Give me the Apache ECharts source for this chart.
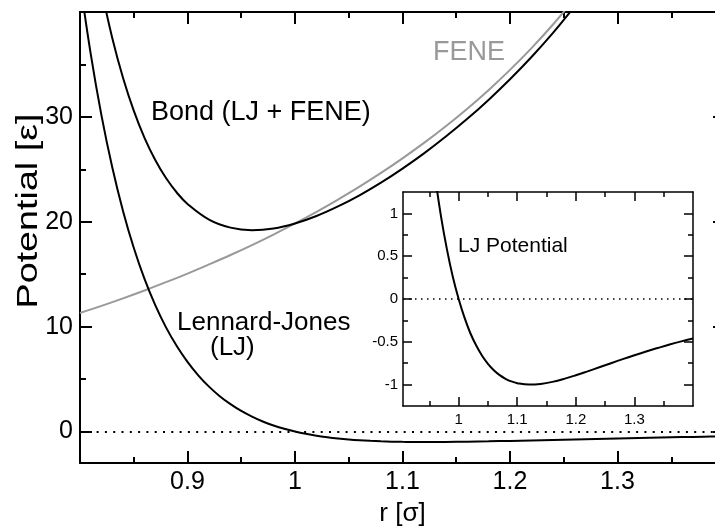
<!DOCTYPE html>
<html>
<head>
<meta charset="utf-8">
<script src="https://cdn.jsdelivr.net/npm/echarts@6/dist/echarts.min.js"></script>
<style>
  html, body { margin: 0; padding: 0; background: #fff; }
  #chart { width: 715px; height: 529px; }
</style>
</head>
<body>
<div id="chart"></div>
<script>
// Lennard-Jones potential (r in sigma, U in epsilon)
const rLJ = [0.80, 0.81, 0.82, 0.83, 0.84, 0.85, 0.86, 0.87, 0.88, 0.89,
  0.90, 0.91, 0.92, 0.93, 0.94, 0.95, 0.96, 0.97, 0.98, 0.99,
  1.00, 1.01, 1.02, 1.03, 1.04, 1.05, 1.06, 1.07, 1.08, 1.09,
  1.10, 1.12, 1.14, 1.16, 1.18, 1.20, 1.22, 1.24, 1.26, 1.28,
  1.30, 1.32, 1.34, 1.36, 1.38, 1.40];
const ljValues = [42.95, 35.98, 30.12, 25.19, 21.03, 17.52, 14.55, 12.05, 9.93, 8.15,
  6.64, 5.36, 4.28, 3.37, 2.61, 1.96, 1.42, 0.96, 0.58, 0.26,
  0, -0.218, -0.40, -0.544, -0.663, -0.758, -0.832, -0.889, -0.932, -0.963,
  -0.983, -1.000, -0.992, -0.968, -0.933, -0.891, -0.845, -0.798, -0.750, -0.703,
  -0.657, -0.613, -0.572, -0.532, -0.495, -0.461];

// FENE spring (grey curve)
const rFene = [0.80, 0.82, 0.84, 0.86, 0.88, 0.90, 0.92, 0.94, 0.96, 0.98,
  1.00, 1.02, 1.04, 1.06, 1.08, 1.10, 1.12, 1.14, 1.16, 1.18,
  1.20, 1.22, 1.24, 1.26];
const feneValues = [11.30, 11.98, 12.70, 13.45, 14.24, 15.06, 15.93, 16.83, 17.78, 18.78,
  19.84, 20.95, 22.12, 23.35, 24.66, 26.05, 27.52, 29.09, 30.76, 32.55,
  34.48, 36.56, 38.81, 41.27];

// bond = LJ + FENE
const rBond = [0.82, 0.83, 0.84, 0.85, 0.86, 0.87, 0.88, 0.89, 0.90, 0.92,
  0.94, 0.96, 0.98, 1.00, 1.02, 1.04, 1.06, 1.08, 1.10, 1.12,
  1.14, 1.16, 1.18, 1.20, 1.22, 1.24, 1.26];
const bondValues = [42.10, 37.53, 33.73, 30.59, 28.00, 25.89, 24.17, 22.79, 21.70, 20.21,
  19.44, 19.20, 19.36, 19.84, 20.55, 21.46, 22.52, 23.73, 25.07, 26.52,
  28.10, 29.79, 31.62, 33.59, 35.71, 38.01, 40.52];

// tick positions
const mainYTicks = [0, 10, 20, 30];
const mainYMinor = [5, 15, 25, 35];
const insetXTicks = [1, 1.1, 1.2, 1.3];
const insetXMinor = [0.95, 1.05, 1.15, 1.25, 1.35];
const insetYTicks = [-1, -0.5, 0, 0.5, 1];
const insetYMinor = [-0.75, -0.25, 0.25, 0.75];

const font = '"Liberation Sans", Arial, sans-serif';
const black = '#000';
const grey = '#999';

function pairs(xs, ys) {
  return xs.map((x, i) => [x, ys[i]]);
}

// one axis, ticks pointing inwards
function axis(opt) {
  const a = {
    type: 'value',
    gridIndex: opt.grid,
    position: opt.pos,
    min: opt.min,
    max: opt.max,
    axisLine: { show: opt.line !== false, onZero: false, lineStyle: { color: black, width: opt.lw } },
    axisTick: { show: true, inside: true, length: opt.tick, lineStyle: { color: black, width: opt.lw } },
    axisLabel: { show: false },
    splitLine: { show: false },
  };
  if (opt.interval) a.interval = opt.interval;
  if (opt.values) a.axisTick.customValues = opt.values;
  if (opt.minor) {
    a.minorTick = { show: true, splitNumber: 2, length: opt.minor, lineStyle: { color: black, width: opt.lw } };
    a.minorSplitLine = { show: false };
  }
  if (opt.label) {
    a.axisLabel = Object.assign({ show: true, color: black, fontFamily: font }, opt.label);
    if (opt.values) a.axisLabel.customValues = opt.values;
  }
  return a;
}

const chart = echarts.init(document.getElementById('chart'), null, { renderer: 'canvas' });

chart.setOption({
  animation: false,
  backgroundColor: '#fff',
  grid: [
    { left: 80, top: 12, width: 645, height: 451, outerBoundsMode: 'none', containLabel: false },
    { left: 403, top: 192, width: 290, height: 214, outerBoundsMode: 'none', containLabel: false,
      show: true, backgroundColor: '#fff', borderWidth: 0 }
  ],
  xAxis: [
    Object.assign(axis({ grid: 0, pos: 'bottom', min: 0.8, max: 1.4, interval: 0.1, lw: 2, tick: 12, minor: 6,
      label: { fontSize: 25, margin: 7, formatter: v => (v > 0.85 && v < 1.35) ? String(v) : '' } }), {
      name: 'r [σ]', nameLocation: 'middle', nameGap: 38,
      nameTextStyle: { fontSize: 26, color: black, fontFamily: font }
    }),
    axis({ grid: 0, pos: 'top', min: 0.8, max: 1.4, interval: 0.1, lw: 2, tick: 12, minor: 6 }),
    // inset
    axis({ grid: 1, pos: 'bottom', min: 0.905, max: 1.4, values: insetXTicks, lw: 1.5, tick: 9,
      label: { fontSize: 15, margin: 6 } }),
    axis({ grid: 1, pos: 'bottom', min: 0.905, max: 1.4, values: insetXMinor, lw: 1.5, tick: 5, line: false }),
    axis({ grid: 1, pos: 'top', min: 0.905, max: 1.4, values: insetXTicks, lw: 1.5, tick: 9 }),
    axis({ grid: 1, pos: 'top', min: 0.905, max: 1.4, values: insetXMinor, lw: 1.5, tick: 5, line: false })
  ],
  yAxis: [
    axis({ grid: 0, pos: 'left', min: -3, max: 40, values: mainYTicks, lw: 2, tick: 12,
      label: { fontSize: 25, margin: 7 } }),
    axis({ grid: 0, pos: 'left', min: -3, max: 40, values: mainYMinor, lw: 2, tick: 6, line: false }),
    axis({ grid: 0, pos: 'right', min: -3, max: 40, values: mainYTicks, lw: 2, tick: 12 }),
    // inset
    axis({ grid: 1, pos: 'left', min: -1.25, max: 1.25, values: insetYTicks, lw: 1.5, tick: 9,
      label: { fontSize: 15, margin: 5 } }),
    axis({ grid: 1, pos: 'left', min: -1.25, max: 1.25, values: insetYMinor, lw: 1.5, tick: 5, line: false }),
    axis({ grid: 1, pos: 'right', min: -1.25, max: 1.25, values: insetYTicks, lw: 1.5, tick: 9 }),
    axis({ grid: 1, pos: 'right', min: -1.25, max: 1.25, values: insetYMinor, lw: 1.5, tick: 5, line: false })
  ],
  series: [
    {
      name: 'FENE', type: 'line', xAxisIndex: 0, yAxisIndex: 0,
      data: pairs(rFene, feneValues), symbol: 'none', smooth: 0.4,
      lineStyle: { color: grey, width: 2 }
    },
    {
      name: 'Bond', type: 'line', xAxisIndex: 0, yAxisIndex: 0,
      data: pairs(rBond, bondValues), symbol: 'none', smooth: 0.4,
      lineStyle: { color: black, width: 2 }
    },
    {
      name: 'LJ', type: 'line', xAxisIndex: 0, yAxisIndex: 0,
      data: pairs(rLJ, ljValues), symbol: 'none', smooth: 0.4,
      lineStyle: { color: black, width: 2 },
      markLine: {
        silent: true, symbol: 'none', label: { show: false },
        lineStyle: { color: black, width: 2, type: [2, 6.3] },
        data: [{ yAxis: 0 }]
      }
    },
    {
      name: 'LJ inset', type: 'line', xAxisIndex: 2, yAxisIndex: 3,
      data: pairs(rLJ, ljValues), symbol: 'none', smooth: 0.4,
      lineStyle: { color: black, width: 2 },
      markLine: {
        silent: true, symbol: 'none', label: { show: false },
        lineStyle: { color: black, width: 1.5, type: [1.5, 4.5] },
        data: [{ yAxis: 0 }]
      }
    }
  ],
  graphic: [
    { type: 'text', x: 29, y: 211, rotation: Math.PI / 2, scaleX: 1.3,
      style: { text: 'Potential [ε]', fill: black, font: '29px ' + font, align: 'center', verticalAlign: 'middle' } },
    { type: 'text', x: 151, y: 113,
      style: { text: 'Bond (LJ + FENE)', fill: black, font: '27px ' + font, align: 'left', verticalAlign: 'middle' } },
    { type: 'text', x: 433, y: 53,
      style: { text: 'FENE', fill: grey, font: '27px ' + font, align: 'left', verticalAlign: 'middle' } },
    { type: 'text', x: 177, y: 323,
      style: { text: 'Lennard-Jones', fill: black, font: '26px ' + font, align: 'left', verticalAlign: 'middle' } },
    { type: 'text', x: 210, y: 348,
      style: { text: '(LJ)', fill: black, font: '26px ' + font, align: 'left', verticalAlign: 'middle' } },
    { type: 'text', x: 458, y: 246,
      style: { text: 'LJ Potential', fill: black, font: '21px ' + font, align: 'left', verticalAlign: 'middle' } }
  ]
});
</script>
</body>
</html>
